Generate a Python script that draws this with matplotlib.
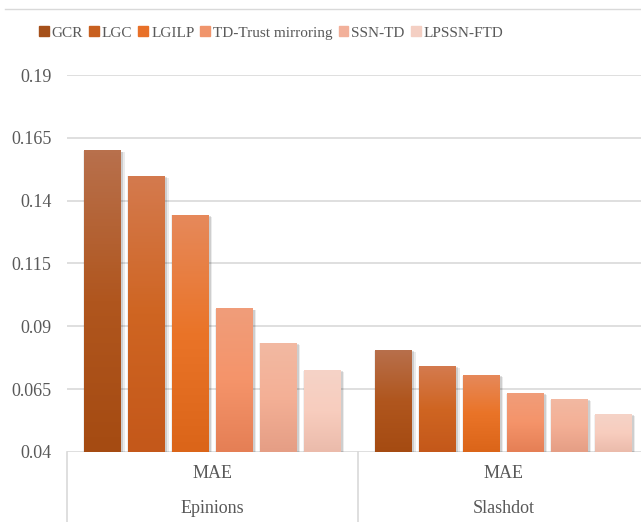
import matplotlib
matplotlib.use("Agg")
import matplotlib.pyplot as plt
import matplotlib.patheffects as pe
from matplotlib.colors import LinearSegmentedColormap
from matplotlib.lines import Line2D
import numpy as np

plt.rcParams['font.family'] = ['Liberation Serif', 'DejaVu Serif']

# данные
datasets = ['Epinions', 'Slashdot']
metric = 'MAE'
methods = ['GCR', 'LGC', 'LGILP', 'TD-Trust mirroring', 'SSN-TD', 'LPSSN-FTD']
values = [
    [0.160, 0.0806],   # GCR
    [0.150, 0.0742],   # LGC
    [0.1344, 0.0707],  # LGILP
    [0.0972, 0.0635],  # TD-Trust mirroring
    [0.0835, 0.0611],  # SSN-TD
    [0.0726, 0.0551],  # LPSSN-FTD
]
yticks = [0.04, 0.065, 0.09, 0.115, 0.14, 0.165, 0.19]

# градиенты: верх, середина, низ
grads = [
    ['#B8704C', '#B0561E', '#A54B12'],
    ['#D47A4E', '#CF6522', '#C4581A'],
    ['#E6895B', '#EA7428', '#DB6519'],
    ['#F09D7A', '#F5946A', '#E57F55'],
    ['#F2B9A2', '#F4B096', '#E59E85'],
    ['#F5D3C7', '#F8CDBE', '#EBBBAB'],
]
legend_colors = ['#A5501A', '#C8601F', '#E87028', '#F0956C', '#F2B09A', '#F4CFC3']

txt = '#595959'
grid_c = '#D9D9D9'

fig = plt.figure(figsize=(6.41, 5.22), dpi=100)
ax = fig.add_axes([67 / 641, 70 / 522, 582 / 641, 377 / 522])

x = np.arange(len(datasets))
pitch = 0.151
width = 0.127
ymin, ymax = 0.04, 0.19

shadow = [
    pe.SimplePatchShadow(offset=(2.5, -1.5), shadow_rgbFace='#000000', alpha=0.08),
    pe.SimplePatchShadow(offset=(1.5, -1), shadow_rgbFace='#000000', alpha=0.12),
    pe.SimplePatchShadow(offset=(-0.8, -0.5), shadow_rgbFace='#000000', alpha=0.06),
    pe.Normal(),
]

for i, name in enumerate(methods):
    bars = ax.bar(x + (i - 2.5) * pitch, np.array(values[i]) - ymin, width,
                  bottom=ymin, color=legend_colors[i], zorder=3, label=name,
                  path_effects=shadow)
    cmap = LinearSegmentedColormap.from_list(name, grads[i][::-1])
    for b in bars:
        bx, by = b.get_x(), b.get_y()
        bw, bh = b.get_width(), b.get_height()
        grad = np.linspace(0, 1, 100).reshape(-1, 1)
        im = ax.imshow(grad, cmap=cmap, origin='lower', aspect='auto',
                       extent=[bx, bx + bw, by, by + bh], zorder=4)
        im.set_clip_path(b)

ax.set_xlim(-0.5, 1.5)
ax.set_ylim(ymin, ymax)
ax.set_yticks(yticks)
ax.set_yticklabels([f'{t:g}' for t in yticks])
ax.tick_params(axis='y', length=0, pad=11, labelsize=13, labelcolor=txt)
ax.set_xticks([])
for s in ax.spines.values():
    s.set_visible(False)
for t in yticks:
    ax.axhline(t, color=grid_c, lw=1.2, zorder=1)

# подписи категорий снизу
trans = ax.get_xaxis_transform()
for xi, d in zip(x, datasets):
    ax.text(xi, -0.056, metric, transform=trans, ha='center', va='center',
            fontsize=13, color=txt)
    ax.text(xi, -0.149, d, transform=trans, ha='center', va='center',
            fontsize=13, color=txt)
for xb in [-0.5, 0.5, 1.5]:
    ax.plot([xb, xb], [0, -0.2], transform=trans, color=grid_c, lw=1.2,
            clip_on=False)

# легенда
handles = [plt.Rectangle((0, 0), 1, 1, color=c) for c in legend_colors]
fig.legend(handles, methods, loc='center', bbox_to_anchor=(271 / 641, 1 - 33 / 522),
           ncol=6, frameon=False, fontsize=11, labelcolor=txt,
           handlelength=0.65, handleheight=0.65, handletextpad=0.2,
           columnspacing=0.38)

# линия сверху
fig.add_artist(Line2D([5 / 641, 1], [1 - 9 / 522, 1 - 9 / 522],
                      transform=fig.transFigure, color=grid_c, lw=1))

fig.savefig('out.png', dpi=100)
